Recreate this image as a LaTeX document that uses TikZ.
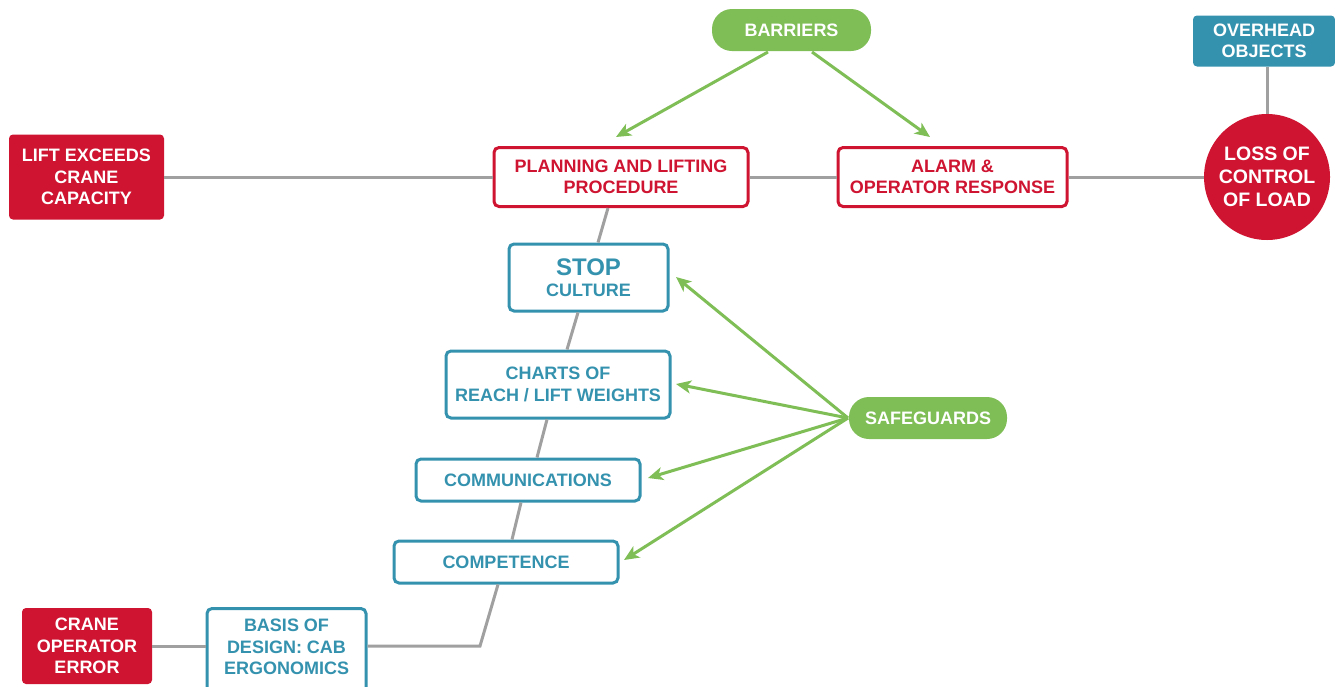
\documentclass[tikz,border=0pt]{standalone}
\usepackage{fontspec}
\setmainfont{Liberation Sans}
\usetikzlibrary{arrows.meta,calc}
\definecolor{hazred}{HTML}{CE1431}
\definecolor{ctrlteal}{HTML}{3592AF}
\definecolor{barrgreen}{HTML}{7FBE56}
\definecolor{linkgray}{HTML}{A0A0A0}

\begin{document}
\begin{tikzpicture}[x=1pt,y=-1pt,
  every node/.style={font=\fontsize{18}{21.5}\selectfont\bfseries, align=center, inner sep=0pt},
  threat/.style={fill=hazred, text=white, rounded corners=4pt},
  redbox/.style={draw=hazred, line width=3pt, fill=white, text=hazred, rounded corners=5pt},
  guardbox/.style={draw=ctrlteal, line width=3pt, fill=white, text=ctrlteal, rounded corners=5pt},
  pill/.style={fill=barrgreen, text=white, rounded corners=20pt},
  link/.style={draw=linkgray, line width=3pt},
  greenarrow/.style={draw=barrgreen, line width=3pt, -{Stealth[length=15pt,width=13pt,inset=4pt]}}
]
\useasboundingbox (0,0) rectangle (1335,686);
\clip (0,0) rectangle (1335,686);

% top event and hazard
\node[threat, fill=ctrlteal, minimum width=142pt, minimum height=51pt] (hazard) at (1264,41) {OVERHEAD\\OBJECTS};
\node[circle, fill=hazred, text=white, minimum size=126pt, font=\fontsize{19.5}{23}\selectfont\bfseries] (top) at (1267,177) {LOSS OF\\CONTROL\\OF LOAD};

% threats
\node[threat, minimum width=155pt, minimum height=85pt] (lift) at (86.5,177) {LIFT EXCEEDS\\CRANE\\CAPACITY};
\node[threat, minimum width=130pt, minimum height=76pt] (oper) at (87,646) {CRANE\\OPERATOR\\ERROR};

% barriers on the main line
\node[redbox, minimum width=254pt, minimum height=59pt] (plan) at (621,177) {PLANNING AND LIFTING\\PROCEDURE};
\node[redbox, minimum width=229pt, minimum height=59pt] (alarm) at (952.5,177) {ALARM \&\\OPERATOR RESPONSE};

% safeguards on the escalation line
\node[guardbox, minimum width=159pt, minimum height=67pt] (stop) at (588.5,277.5) {{\fontsize{24}{26}\selectfont STOP}\\[-1pt]CULTURE};
\node[guardbox, minimum width=224pt, minimum height=67pt] (charts) at (558,384.5) {CHARTS OF\\REACH / LIFT WEIGHTS};
\node[guardbox, minimum width=224pt, minimum height=42pt] (comm) at (528,480) {COMMUNICATIONS};
\node[guardbox, minimum width=224pt, minimum height=42pt] (comp) at (506,562) {COMPETENCE};
\node[guardbox, minimum width=159pt, minimum height=90pt, anchor=north] (basis) at (286.5,607) {};
\node[text=ctrlteal] (basistext) at (286.5,647) {BASIS OF\\DESIGN: CAB\\ERGONOMICS};

% labels
\node[pill, minimum width=159pt, minimum height=42pt] (barriers) at (791.5,30) {BARRIERS};
\node[pill, minimum width=158pt, minimum height=42pt] (safeguards) at (928,418) {SAFEGUARDS};

% connectors
\draw[link] (top.north |- hazard.south) -- (top.north);
\draw[link] (lift.east) -- (plan.west);
\draw[link] (plan.east) -- (alarm.west);
\draw[link] (alarm.east) -- (top.west);
\draw[link] ([xshift=-13pt]plan.south) -- ([xshift=9.5pt]stop.north);
\draw[link] ([xshift=-10.5pt]stop.south) -- ([xshift=9pt]charts.north);
\draw[link] ([xshift=-11pt]charts.south) -- ([xshift=9pt]comm.north);
\draw[link] ([xshift=-7pt]comm.south) -- ([xshift=6pt]comp.north);
\coordinate (bend) at (480,646);
\draw[link] ([xshift=-8pt]comp.south) -- (bend) -- (basis.east |- bend);
\draw[link] (oper.east) -- (basis.west |- oper.east);

% arrows
\coordinate (bl) at (768,52);
\coordinate (br) at (812,52);
\draw[greenarrow] (bl) -- (616,137);
\draw[greenarrow] (br) -- (930,137);
\coordinate (sg) at (848,418);
\draw[greenarrow] (sg) -- (676,277);
\draw[greenarrow] (sg) -- (676,384);
\draw[greenarrow] (sg) -- (648,478);
\draw[greenarrow] (sg) -- (624,560);
\end{tikzpicture}
\end{document}
